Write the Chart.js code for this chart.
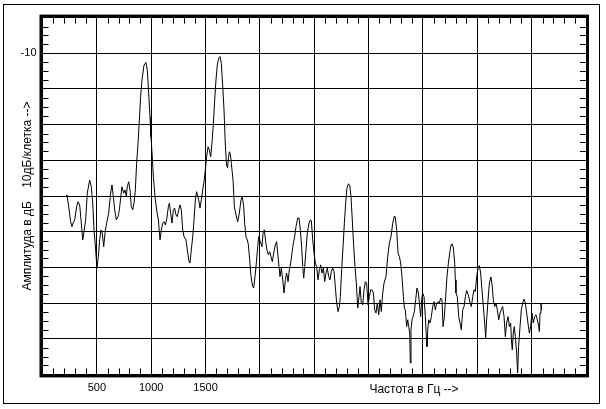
<!DOCTYPE html>
<html>
<head>
<meta charset="utf-8">
<script src="https://cdn.jsdelivr.net/npm/chart.js@4"></script>
<style>
  body { margin: 0; background: #fff; }
  canvas { display: block; }
</style>
</head>
<body>
<canvas id="spectrum" width="606" height="409"></canvas>
<script>
// spectrum values (Hz, dB)
const freqHz = [210,225,241,259,271,281,296,314,327,342,357,370,382,397,412,434,449,462,474,489,501,514,526,538,550,563,575,590,609,627,639,652,664,679,695,707,719,731,747,759,771,780,793,805,817,830,842,854,866,879,891,903,915,934,952,964,977,989,998,1010,1020,1035,1050,1066,1081,1093,1106,1118,1130,1142,1158,1167,1179,1191,1204,1216,1228,1240,1253,1265,1277,1290,1302,1320,1332,1348,1357,1369,1382,1394,1406,1418,1437,1449,1461,1474,1486,1498,1510,1523,1535,1547,1559,1572,1584,1596,1608,1621,1633,1645,1658,1670,1682,1693,1702,1711,1719,1728,1737,1753,1765,1780,1796,1811,1826,1838,1851,1860,1872,1884,1894,1906,1918,1934,1943,1955,1967,1980,1989,2004,2019,2029,2041,2053,2065,2078,2090,2102,2114,2127,2142,2154,2167,2176,2185,2197,2210,2222,2234,2246,2259,2271,2283,2295,2308,2320,2332,2348,2360,2372,2384,2394,2403,2412,2424,2436,2452,2464,2473,2486,2498,2510,2522,2535,2547,2559,2571,2584,2596,2608,2620,2633,2645,2657,2670,2682,2694,2706,2719,2731,2740,2752,2765,2777,2789,2801,2814,2826,2838,2850,2863,2875,2887,2900,2912,2921,2933,2946,2958,2970,2982,2995,3007,3019,3031,3044,3056,3068,3080,3093,3105,3117,3130,3142,3160,3176,3191,3206,3222,3237,3246,3258,3271,3283,3295,3307,3320,3329,3338,3350,3360,3369,3378,3384,3390,3399,3409,3421,3433,3445,3458,3470,3479,3488,3497,3510,3522,3531,3537,3544,3553,3565,3577,3590,3602,3614,3626,3639,3651,3663,3675,3685,3697,3709,3721,3734,3746,3758,3770,3780,3792,3798,3804,3816,3829,3841,3853,3866,3878,3890,3902,3918,3933,3945,3958,3970,3982,3994,4007,4019,4031,4043,4056,4068,4077,4086,4099,4111,4126,4138,4147,4160,4172,4184,4197,4209,4221,4233,4246,4258,4270,4283,4295,4307,4316,4322,4331,4340,4350,4362,4371,4380,4393,4405,4417,4430,4442,4454,4466,4479,4491,4503,4515,4528,4540,4552,4565,4571,4577,4586,4592];
const ampDb = [-50.2,-49.7,-53.0,-57.2,-58.6,-57.6,-56.7,-53.0,-51.6,-52.5,
  -57.6,-62.3,-60.0,-56.7,-49.2,-45.5,-47.4,-52.0,-59.5,-65.1,
  -70.2,-67.0,-62.3,-59.5,-60.4,-64.2,-60.4,-57.6,-54.8,-49.2,
  -46.9,-50.2,-53.9,-56.7,-55.8,-53.9,-50.6,-47.4,-49.2,-48.3,
  -50.2,-47.4,-46.0,-48.3,-53.0,-53.9,-52.0,-48.3,-40.8,-35.2,
  -28.7,-22.1,-17.5,-13.3,-12.6,-14.7,-21.2,-27.8,-33.4,-39.0,
  -44.6,-50.2,-53.9,-56.7,-62.3,-59.5,-57.6,-57.2,-58.1,-56.7,
  -53.0,-52.0,-54.8,-57.6,-53.9,-53.4,-55.3,-55.8,-53.9,-52.5,
  -53.9,-59.5,-61.4,-62.3,-65.1,-68.4,-68.8,-65.1,-61.4,-56.7,
  -51.1,-48.8,-51.1,-53.4,-51.1,-48.3,-46.0,-42.7,-39.0,-36.2,
  -37.1,-39.0,-35.2,-29.6,-23.1,-17.5,-13.3,-11.4,-10.9,-12.8,
  -19.3,-25.9,-35.7,-41.3,-42.1,-39.3,-37.6,-38.2,-40.8,-45.5,
  -53.0,-55.3,-57.2,-54.8,-51.1,-50.2,-53.0,-57.6,-61.4,-62.3,
  -63.7,-67.9,-72.6,-75.4,-75.8,-72.6,-68.8,-64.2,-61.4,-62.8,
  -64.2,-60.4,-59.5,-62.8,-65.1,-66.5,-65.6,-67.0,-68.4,-66.0,
  -63.7,-62.8,-67.0,-69.8,-72.6,-70.2,-73.5,-77.2,-73.5,-71.6,
  -74.0,-70.7,-68.8,-66.0,-63.2,-61.4,-58.6,-56.2,-56.2,-59.5,
  -64.2,-69.8,-73.0,-69.8,-65.1,-60.4,-57.6,-56.7,-56.9,-62.3,
  -66.0,-68.8,-69.8,-73.5,-70.7,-69.3,-71.6,-70.2,-74.0,-71.6,
  -70.2,-72.6,-73.5,-71.2,-70.2,-71.2,-75.4,-80.0,-82.4,-81.0,
  -78.2,-70.7,-64.2,-57.6,-52.0,-47.8,-46.6,-46.9,-50.2,-56.7,
  -64.2,-69.8,-74.4,-81.4,-78.2,-75.4,-80.0,-80.5,-76.3,-74.0,
  -74.4,-80.5,-78.2,-76.3,-76.3,-77.2,-81.9,-82.8,-80.0,-83.3,
  -79.1,-82.4,-77.2,-74.4,-72.6,-67.0,-63.2,-61.4,-57.6,-55.6,
  -55.9,-59.5,-66.0,-67.0,-68.8,-72.6,-78.2,-81.4,-81.9,-86.6,
  -84.7,-86.6,-88.4,-96.8,-87.5,-84.7,-83.8,-82.4,-79.1,-75.8,
  -77.2,-81.0,-83.8,-79.1,-77.2,-78.2,-83.8,-89.4,-92.2,-87.5,
  -84.7,-85.6,-83.8,-81.0,-79.6,-81.9,-80.0,-79.6,-80.0,-78.6,
  -79.1,-86.6,-83.8,-78.2,-72.6,-68.8,-66.0,-63.7,-63.5,-64.6,
  -68.8,-73.5,-77.2,-78.2,-83.8,-85.6,-87.5,-81.9,-81.0,-78.2,
  -76.5,-77.7,-80.0,-81.0,-78.2,-76.3,-76.8,-72.6,-70.2,-69.5,
  -71.6,-76.3,-81.0,-85.6,-89.8,-84.7,-79.1,-74.4,-72.7,-75.4,
  -79.1,-81.0,-80.0,-81.9,-84.7,-82.8,-81.9,-81.0,-83.8,-89.4,
  -85.6,-83.8,-86.6,-85.6,-91.2,-93.1,-88.4,-86.6,-89.4,-94.0,
  -99.6,-92.2,-86.6,-81.9,-80.0,-78.9,-80.0,-82.8,-85.6,-88.4,
  -86.6,-82.8,-85.6,-83.8,-83.3,-84.7,-86.6,-88.0,-82.8,-80.0,-81.9];

const xTickLabels = [500, 1000, 1500];
const yTickLabels = [-10];
const xTitle = 'Частота в Гц -->';
const yTitle = 'Амплитуда в дБ    10дБ/клетка -->';

Chart.defaults.font.family = "'Liberation Sans', Arial, sans-serif";
Chart.defaults.font.size = 11;
Chart.defaults.color = '#000';

// thick plot border, small inner ticks, outer frame and the x caption
const frame = {
  id: 'frame',
  beforeDraw(chart) {
    const ctx = chart.ctx;
    ctx.save();
    ctx.fillStyle = '#fff';
    ctx.fillRect(0, 0, chart.width, chart.height);
    ctx.restore();
  },
  afterDraw(chart) {
    const ctx = chart.ctx, a = chart.chartArea;
    const xs = chart.scales.x, ys = chart.scales.y;
    ctx.save();
    ctx.strokeStyle = '#000';

    ctx.lineWidth = 1;
    ctx.strokeRect(3.5, 4.5, 596, 399);

    ctx.beginPath();
    for (let v = 100; v < 5000; v += 100) {
      if (v % 500 === 0) continue;
      const px = Math.round(xs.getPixelForValue(v)) + 0.5;
      ctx.moveTo(px, a.top); ctx.lineTo(px, a.top + 6);
      ctx.moveTo(px, a.bottom); ctx.lineTo(px, a.bottom - 6);
    }
    for (let v = -97.5; v < 0; v += 2.5) {
      if (v % 10 === 0) continue;
      const py = Math.round(ys.getPixelForValue(v)) + 0.5;
      ctx.moveTo(a.left, py); ctx.lineTo(a.left + 6, py);
      ctx.moveTo(a.right, py); ctx.lineTo(a.right - 6, py);
    }
    ctx.stroke();

    ctx.lineWidth = 3;
    ctx.strokeRect(a.left - 1.5, a.top - 1.5, a.right - a.left + 3, a.bottom - a.top + 3);

    ctx.fillStyle = '#000';
    ctx.font = "12px 'Liberation Sans', Arial, sans-serif";
    ctx.textAlign = 'center';
    ctx.textBaseline = 'middle';
    ctx.fillText(xTitle, 414, 390);
    ctx.restore();
  }
};

new Chart(document.getElementById('spectrum'), {
  type: 'line',
  data: {
    datasets: [{
      data: freqHz.map((f, i) => ({ x: f, y: ampDb[i] })),
      borderColor: '#000',
      borderWidth: 1,
      pointRadius: 0,
      tension: 0,
      fill: false
    }]
  },
  options: {
    responsive: false,
    animation: false,
    layout: { padding: { left: 0, top: 17.6, right: 20, bottom: 0 } },
    plugins: { legend: { display: false }, tooltip: { enabled: false } },
    scales: {
      x: {
        type: 'linear',
        min: 0, max: 5000,
        afterFit(scale) { scale.height = 34.6; },
        grid: { color: '#000', lineWidth: 1, drawTicks: false },
        border: { display: false },
        ticks: {
          stepSize: 500, autoSkip: false, maxRotation: 0, padding: 7,
          callback: v => xTickLabels.includes(v) ? String(v) : ''
        }
      },
      y: {
        min: -100, max: 0,
        afterFit(scale) { scale.width = 42.5; },
        grid: { color: '#000', lineWidth: 1, drawTicks: false },
        border: { display: false },
        ticks: {
          stepSize: 10, autoSkip: false, padding: 6,
          callback: v => yTickLabels.includes(v) ? String(v) : ''
        },
        title: { display: true, text: yTitle, font: { size: 12 }, padding: { top: 20, bottom: 0 } }
      }
    }
  },
  plugins: [frame]
});
</script>
</body>
</html>
